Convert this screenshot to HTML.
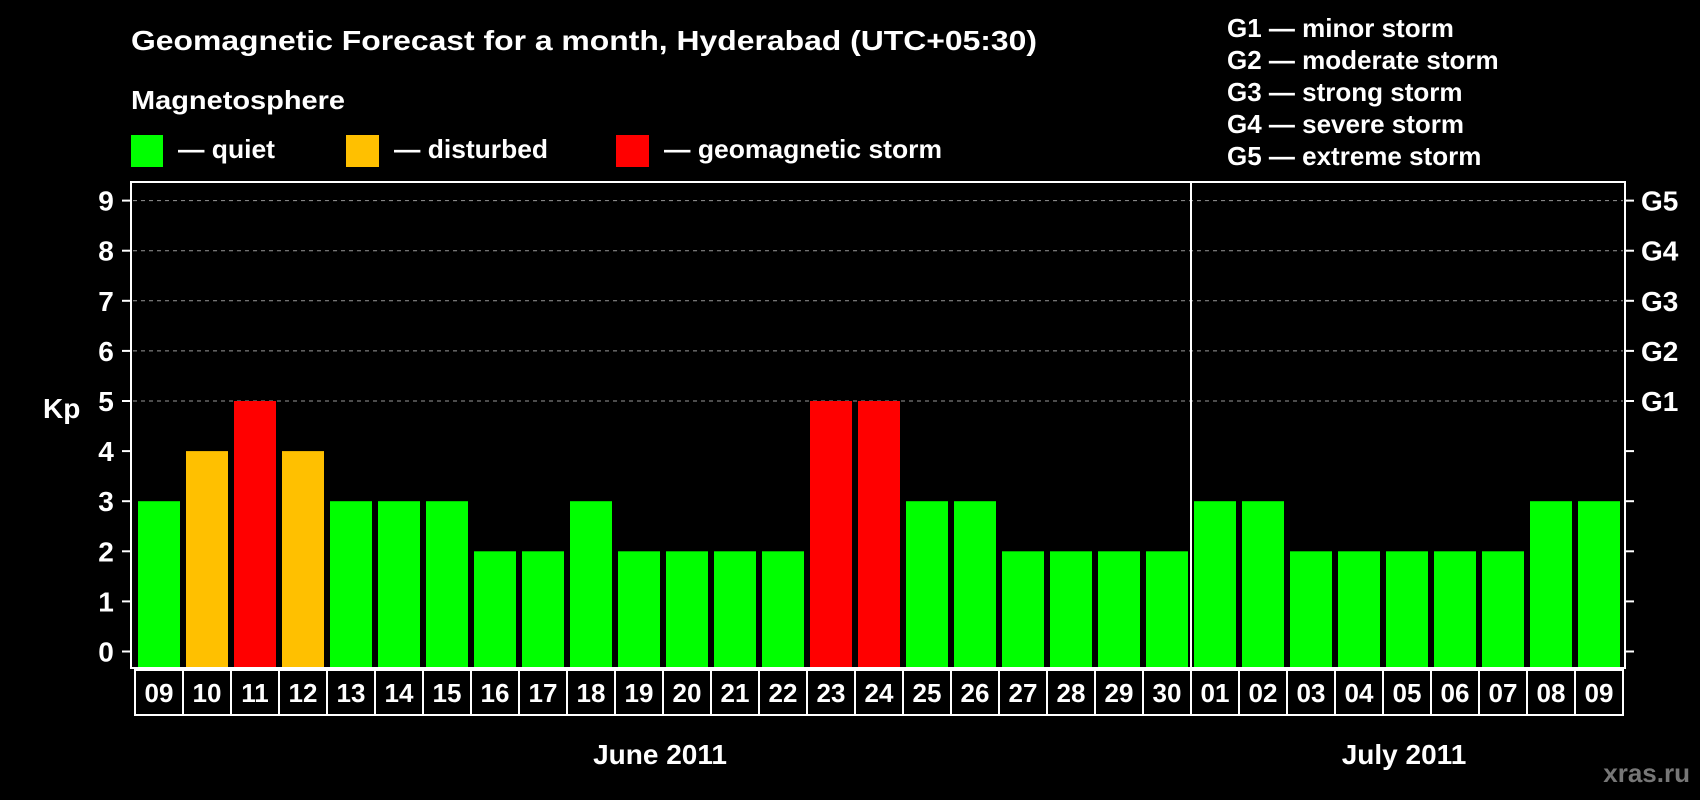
<!DOCTYPE html>
<html><head><meta charset="utf-8"><style>
html,body{margin:0;padding:0;background:#000;}
svg{display:block;font-family:"Liberation Sans",sans-serif;font-weight:bold;}
</style></head><body>
<svg id="c" width="1700" height="800" viewBox="0 0 1700 800">
<rect width="1700" height="800" fill="#000"/>
<text x="131" y="50" font-size="28" fill="#fff" textLength="906" lengthAdjust="spacingAndGlyphs">Geomagnetic Forecast for a month, Hyderabad (UTC+05:30)</text>
<text x="131" y="109" font-size="26" fill="#fff" textLength="214" lengthAdjust="spacingAndGlyphs">Magnetosphere</text>
<g><rect x="131" y="135" width="32" height="32" fill="#00ff00"/><text x="178" y="158" font-size="26" fill="#fff" textLength="97" lengthAdjust="spacingAndGlyphs">— quiet</text></g>
<g><rect x="346" y="135" width="33" height="32" fill="#ffc000"/><text x="394" y="158" font-size="26" fill="#fff" textLength="154" lengthAdjust="spacingAndGlyphs">— disturbed</text></g>
<g><rect x="616" y="135" width="33" height="32" fill="#ff0000"/><text x="664" y="158" font-size="26" fill="#fff" textLength="278" lengthAdjust="spacingAndGlyphs">— geomagnetic storm</text></g>
<g id="glegend"></g>
<g id="grid"></g>
<g id="bars"></g>
<rect x="131" y="182" width="1494" height="486" fill="none" stroke="#fff" stroke-width="2"/>
<line x1="1191" y1="182" x2="1191" y2="668" stroke="#fff" stroke-width="2"/>
<g id="xl"></g>
<text x="43" y="418" font-size="28" fill="#fff">Kp</text>
<text x="660" y="764" font-size="28" fill="#fff" text-anchor="middle">June 2011</text>
<text x="1404" y="764" font-size="28" fill="#fff" text-anchor="middle">July 2011</text>
<text x="1690" y="782" font-size="26" fill="#777" text-anchor="end">xras.ru</text>
</svg>
<script>
const days=["09","10","11","12","13","14","15","16","17","18","19","20","21","22","23","24","25","26","27","28","29","30","01","02","03","04","05","06","07","08","09"];
const kp=[3,4,5,4,3,3,3,2,2,3,2,2,2,2,5,5,3,3,2,2,2,2,3,3,2,2,2,2,2,3,3];
const yTicks=[0,1,2,3,4,5,6,7,8,9];
const gLabels=["G1","G2","G3","G4","G5"];
const gDesc=["G1 — minor storm","G2 — moderate storm","G3 — strong storm","G4 — severe storm","G5 — extreme storm"];
const NS="http://www.w3.org/2000/svg";
function mk(t,a,p){const e=document.createElementNS(NS,t);for(const k in a)e.setAttribute(k,a[k]);p.appendChild(e);return e;}
const y=v=>651.5-v*50.1;
const cellX=i=>135+i*48;
const color=v=>v>=5?"#ff0000":(v>=4?"#ffc000":"#00ff00");
const grid=document.getElementById('grid');
yTicks.forEach(v=>{
  const yy=y(v);
  if(v>=5){const l=mk('line',{x1:133,x2:1623,y1:yy,y2:yy,stroke:'#999','stroke-dasharray':'4,4','stroke-width':1},grid);
  
  }
  mk('line',{x1:122,x2:131,y1:yy,y2:yy,stroke:'#fff','stroke-width':2},grid);
  mk('line',{x1:1625,x2:1634,y1:yy,y2:yy,stroke:'#fff','stroke-width':2},grid);
  const t=mk('text',{x:106,y:yy+10,'font-size':28,fill:'#fff','text-anchor':'middle'},grid);
  t.textContent=v;
  
  
});
gLabels.forEach((g,i)=>{
  const t=mk('text',{x:1641,y:y(5+i)+10,'font-size':28,fill:'#fff'},grid);
  t.textContent=g;
  
  
});
const gl=document.getElementById('glegend');
gDesc.forEach((d,i)=>{
  const t=mk('text',{x:1227,y:37+i*32,'font-size':26,fill:'#fff'},gl);
  t.textContent=d;
  
  
});
const bars=document.getElementById('bars'), xl=document.getElementById('xl');
kp.forEach((v,i)=>{
  const r=mk('rect',{x:cellX(i)+3,y:y(v),width:42,height:668-y(v),fill:color(v)},bars);
  
  
  const c=mk('rect',{x:cellX(i),y:670,width:48,height:45,fill:'none',stroke:'#fff','stroke-width':2},xl);
  
  
  const t=mk('text',{x:cellX(i)+24,y:702,'font-size':26,fill:'#fff','text-anchor':'middle'},xl);
  t.textContent=days[i];
  
  
});
</script>
</body></html>
